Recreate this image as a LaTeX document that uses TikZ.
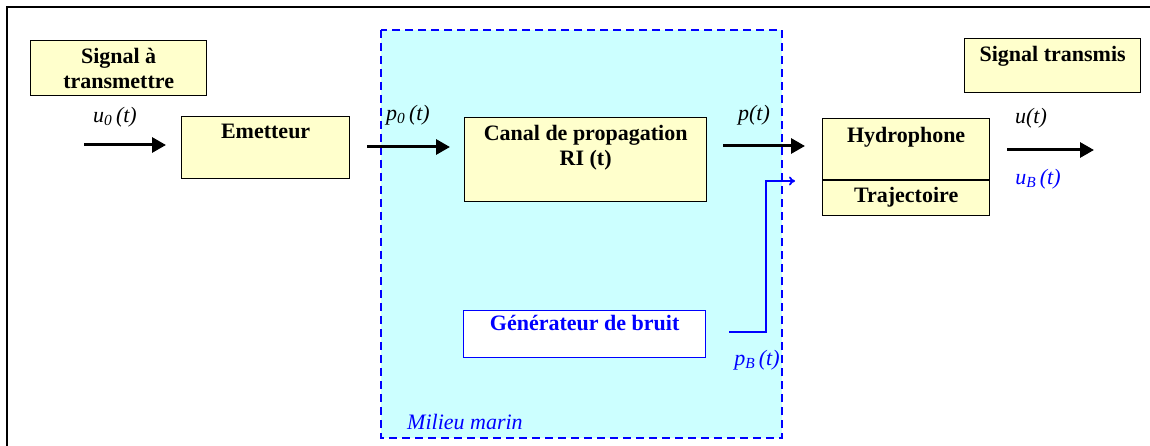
\documentclass[tikz,border=0pt]{standalone}
\usepackage{fontspec}
\setmainfont{Liberation Serif}
\usetikzlibrary{positioning, arrows.meta, calc}
\definecolor{jaune}{HTML}{FFFFCC}
\definecolor{cyanpale}{HTML}{CCFFFF}
\definecolor{bleu}{HTML}{0000FF}

\begin{document}
\begin{tikzpicture}[x=1pt, y=-1pt]
	\tikzset{
		bloc/.style={draw, line width=1.3pt, fill=jaune, anchor=north west},
		titre/.style={font=\fontsize{22}{25}\selectfont\bfseries, align=center, inner sep=0pt},
		sig/.style={font=\fontsize{22}{25}\selectfont\itshape, inner sep=0pt},
		fleche/.style={line width=3pt, -{Triangle[length=14pt, width=15pt]}},
		bruit/.style={bleu, line width=1.8pt, -{To[length=6pt, width=9pt]}}
	}
	\clip (0,0) rectangle (1150,446);
	\draw[line width=2.5pt] (7,7) rectangle (1180,480);
	
	% milieu marin
	\draw[bleu, fill=cyanpale, line width=2.5pt, dash pattern=on 8pt off 5pt] (381,30) rectangle (782,438);
	\node[sig, text=bleu, anchor=west] (milieu) at (407,422) {Milieu marin};
	
	% blocs
	\node[bloc, minimum width=176, minimum height=55] (sigin) at (30,40) {};
	\node[titre] (tsigin) at (sigin.center) {Signal à\\transmettre};
	
	\node[bloc, minimum width=168, minimum height=62] (emet) at (181,116) {};
	\node[titre, below=8pt of emet.north] (temet) {Emetteur};
	
	\node[bloc, minimum width=242, minimum height=84] (canal) at (464,117) {};
	\node[titre, below=8pt of canal.north] (tcanal) {Canal de propagation\\RI (t)};
	
	\node[bloc, minimum width=167, minimum height=97] (hydro) at (822,118) {};
	\draw[line width=1.3pt] (hydro.west |- 0,180) -- (hydro.east |- 0,180);
	\node[titre, below=9pt of hydro.north] (thydro) {Hydrophone};
	\node[titre, anchor=north] (ttraj) at ($(hydro.north)+(0,69)$) {Trajectoire};
	
	\node[bloc, minimum width=176, minimum height=54] (sigout) at (964,38) {};
	\node[titre, below=8pt of sigout.north] (tsigout) {Signal transmis};
	
	\node[bloc, fill=white, draw=bleu, minimum width=242, minimum height=47] (gen) at (463,310) {};
	\node[titre, text=bleu, below=5pt of gen.north] (tgen) {Générateur de bruit};
	
	% signaux
	\foreach \n/\xa/\xb/\y in {u0/84/166/145, p0/367/450/147, p/723/805/146, u/1007/1094/150} {
		\coordinate (\n a) at (\xa,\y);
		\coordinate (\n b) at (\xb,\y);
		\draw[fleche] (\n a) -- (\n b);
	}
	\node[sig] (lu0) at (115,117) {u\textsubscript{0}\,(t)};
	\node[sig] (lp0) at (408,115) {p\textsubscript{0}\,(t)};
	\node[sig] (lp) at (754,115) {p(t)};
	\node[sig] (lu) at (1031,118) {u(t)};
	
	% bruit
	\coordinate (ba) at (729,332);
	\coordinate (bc) at (766,181);
	\coordinate (bb) at (795,181);
	\draw[bruit] (ba) -| (bc) -- (bb);
	\node[sig, text=bleu] (lpb) at (757,360) {p\textsubscript{B}\,(t)};
	\node[sig, text=bleu] (lub) at (1038,179) {u\textsubscript{B}\,(t)};
\end{tikzpicture}
\end{document}
